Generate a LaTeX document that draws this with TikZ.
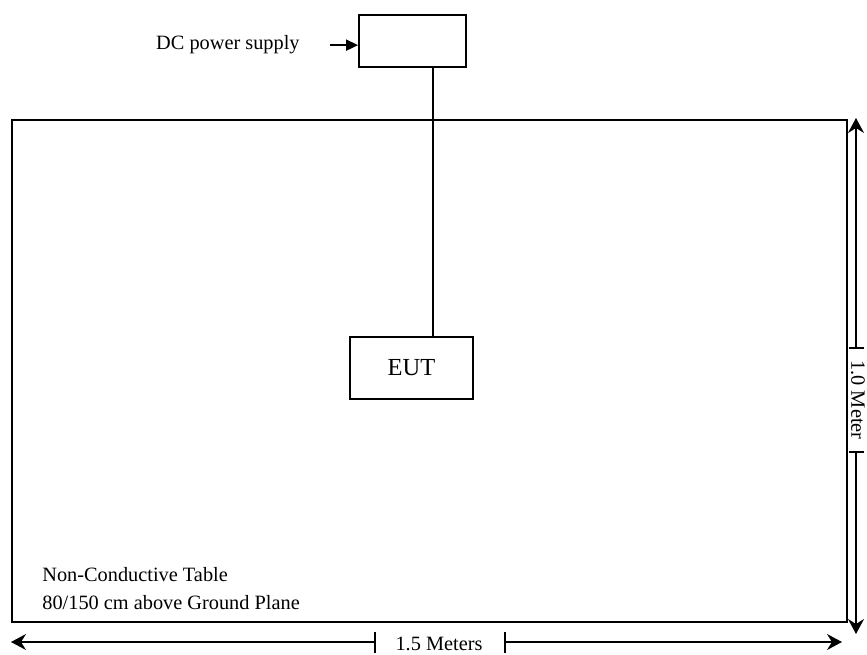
\documentclass[tikz,border=0pt]{standalone}
\usepackage{fontspec}
\setmainfont{Liberation Serif}
\usetikzlibrary{arrows.meta}

\begin{document}
\begin{tikzpicture}[x=0.5bp,y=-0.5bp,
    box/.style={draw,line width=0.9bp,inner sep=0pt},
    dimline/.style={line width=0.65bp},
    dimtip/.style={-{Stealth[length=7.5bp,width=8bp,inset=2.5bp]}},
    lbl/.style={inner sep=0pt,font=\fontsize{10.2}{14}\selectfont}]
    \useasboundingbox (0,0) rectangle (867,655);
    %table
    \draw[line width=1.4bp] (12,120) rectangle (847,622);
    \node[lbl,anchor=base west,align=left] (tbl) at (42,609)
      {Non-Conductive Table\\80/150 cm above Ground Plane};
    %power supply and EUT
    \node[box,minimum width=53.5bp,minimum height=26bp] (psu) at (412.5,41) {};
    \node[box,minimum width=61.5bp,minimum height=31bp,
      font=\fontsize{12.3}{14}\selectfont] (eut) at (411.5,368) {EUT};
    \coordinate (cab) at (433,0);
    \draw[line width=0.9bp] (cab |- psu.south) -- (cab |- eut.north);
    \node[lbl,anchor=base east] (dc) at (300,50) {DC power supply};
    \draw[line width=0.9bp,-{Triangle[length=6bp,width=5.5bp]}]
      ([xshift=15bp]dc.east) -- (dc.east -| psu.west);
    %1.0 Meter
    \coordinate (vt) at (856,118);
    \coordinate (vb) at (856,634);
    \node[lbl,rotate=-90] (vm) at (858,400) {1.0 Meter};
    \draw[dimline] (849,348) -- (864,348) (849,452) -- (864,452);
    \draw[dimline,dimtip] (856,348) -- (vt);
    \draw[dimline,dimtip] (856,452) -- (vb);
    %1.5 Meters
    \coordinate (hl) at (11,642);
    \coordinate (hr) at (842,642);
    \node[lbl] (hm) at (439,644) {1.5 Meters};
    \draw[dimline] (375,632) -- (375,653) (505,632) -- (505,653);
    \draw[dimline,dimtip] (375,642) -- (hl);
    \draw[dimline,dimtip] (505,642) -- (hr);
\end{tikzpicture}
\end{document}
